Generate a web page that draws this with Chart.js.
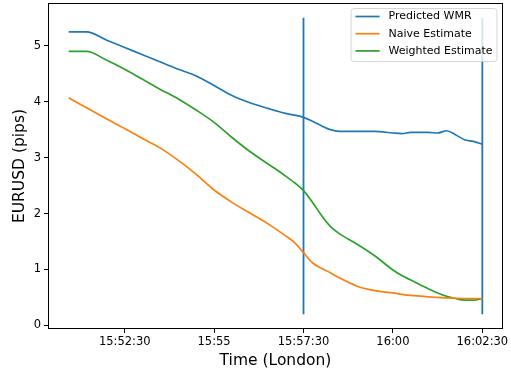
<!DOCTYPE html>
<html>
<head>
<meta charset="utf-8">
<script src="https://cdn.jsdelivr.net/npm/chart.js@4.4.1/dist/chart.umd.min.js"></script>
<style>
  html, body { margin: 0; padding: 0; background: #fff; }
  #wrap { width: 511px; height: 374px; position: relative; }
</style>
</head>
<body>
<div id="wrap"><canvas id="c" width="511" height="374"></canvas></div>
<script>
// seconds after 15:50:00 (London)
const times = [56, 86, 120, 150, 180, 210, 240, 270, 300, 330, 360, 390, 420, 435, 450, 465, 480, 495, 510, 540, 570, 600, 615, 630, 660, 675, 690, 705, 720, 735, 750];
const predictedWMR = [5.25, 5.25, 5.10, 4.97, 4.84, 4.71, 4.58, 4.46, 4.29, 4.11, 3.98, 3.88, 3.79, 3.76, 3.72, 3.65, 3.57, 3.50, 3.47, 3.47, 3.47, 3.44, 3.43, 3.45, 3.45, 3.44, 3.48, 3.41, 3.32, 3.29, 3.24];
const naiveEstimate = [4.07, 3.89, 3.69, 3.52, 3.34, 3.17, 2.95, 2.70, 2.42, 2.20, 2.01, 1.82, 1.60, 1.48, 1.30, 1.12, 1.02, 0.94, 0.85, 0.70, 0.62, 0.58, 0.555, 0.535, 0.51, 0.50, 0.49, 0.485, 0.48, 0.48, 0.48];
const weightedEstimate = [4.90, 4.90, 4.74, 4.58, 4.40, 4.22, 4.05, 3.85, 3.63, 3.36, 3.11, 2.89, 2.67, 2.55, 2.41, 2.20, 1.97, 1.77, 1.64, 1.45, 1.24, 0.99, 0.89, 0.81, 0.65, 0.58, 0.52, 0.48, 0.45, 0.45, 0.48];
const seriesLabels = ['Predicted WMR', 'Naive Estimate', 'Weighted Estimate'];
const vlineTimes = [450, 750];
const vlineRange = [0.2, 5.5];
const xTicks = [150, 300, 450, 600, 750];
const yTicks = [0, 1, 2, 3, 4, 5];

const colors = ['#1f77b4', '#ff7f0e', '#2ca02c'];
const FONT = "'DejaVu Sans', sans-serif";

function fmtTime(t) {
  const total = 15 * 3600 + 50 * 60 + t;
  const h = Math.floor(total / 3600);
  const m = Math.floor((total % 3600) / 60);
  const s = Math.round(total % 60);
  const p = n => String(n).padStart(2, '0');
  return s === 0 ? p(h) + ':' + p(m) : p(h) + ':' + p(m) + ':' + p(s);
}

const toPts = vals => times.map((t, i) => ({ x: t, y: vals[i] }));
const seriesVals = [predictedWMR, naiveEstimate, weightedEstimate];

const datasets = seriesVals.map((v, i) => ({
  label: seriesLabels[i],
  data: toPts(v),
  borderColor: colors[i],
  backgroundColor: colors[i],
  borderWidth: 1.7,
  pointRadius: 0,
  cubicInterpolationMode: 'monotone',
  fill: false
}));
vlineTimes.forEach(t => datasets.push({
  label: '_vline',
  data: [{ x: t, y: vlineRange[0] }, { x: t, y: vlineRange[1] }],
  borderColor: colors[0],
  backgroundColor: colors[0],
  borderWidth: 1.8,
  pointRadius: 0,
  fill: false
}));

const xMin = 56 - 0.05 * (750 - 56), xMax = 750 + 0.05 * (750 - 56);
const yMin = 0.2 - 0.05 * (5.5 - 0.2), yMax = 5.5 + 0.05 * (5.5 - 0.2);

const boxPlugin = {
  id: 'box',
  afterDraw(chart) {
    const { ctx, chartArea: a } = chart;
    ctx.save();
    ctx.strokeStyle = '#000';
    ctx.lineWidth = 1;
    ctx.strokeRect(Math.round(a.left) + 0.5, Math.round(a.top) + 0.5, Math.round(a.right - a.left) - 1, Math.round(a.bottom - a.top) - 1);
    // legend
    const fs = 11;
    ctx.font = fs + 'px ' + FONT;
    const labels = seriesLabels;
    const tw = Math.max(...labels.map(l => ctx.measureText(l).width));
    const pad = 0.4 * fs, handle = 2.2 * fs, gap = 0.8 * fs, rowH = 17.2;
    const w = pad + handle + gap + tw + pad;
    const h = 53;
    const right = a.right - 6, top = a.top + 5.5;
    const left = right - w;
    ctx.beginPath();
    const r = 3;
    ctx.moveTo(left + r, top);
    ctx.arcTo(right, top, right, top + h, r);
    ctx.arcTo(right, top + h, left, top + h, r);
    ctx.arcTo(left, top + h, left, top, r);
    ctx.arcTo(left, top, right, top, r);
    ctx.closePath();
    ctx.fillStyle = 'rgba(255,255,255,0.8)';
    ctx.fill();
    ctx.strokeStyle = 'rgba(204,204,204,0.8)';
    ctx.lineWidth = 1;
    ctx.stroke();
    labels.forEach((l, i) => {
      const cy = top + 8 + i * rowH;
      ctx.beginPath();
      ctx.strokeStyle = colors[i];
      ctx.lineWidth = 1.7;
      ctx.moveTo(left + pad, cy);
      ctx.lineTo(left + pad + handle, cy);
      ctx.stroke();
      ctx.fillStyle = '#000';
      ctx.textBaseline = 'middle';
      ctx.textAlign = 'left';
      ctx.fillText(l, left + pad + handle + gap, cy);
    });
    ctx.restore();
  }
};

new Chart(document.getElementById('c'), {
  type: 'line',
  data: { datasets },
  plugins: [boxPlugin],
  options: {
    responsive: false,
    animation: false,
    layout: { padding: { top: 3, right: 8, left: 0, bottom: 0 } },
    plugins: { legend: { display: false }, tooltip: { enabled: false } },
    scales: {
      x: {
        type: 'linear',
        min: xMin,
        max: xMax,
        afterFit(s) { s.height = 45; s.paddingLeft = 0; s.paddingRight = 0; },
        afterBuildTicks(s) { s.ticks = xTicks.map(v => ({ value: v })); },
        ticks: {
          callback: v => fmtTime(v),
          font: { family: FONT, size: 11.5 },
          color: '#000',
          padding: 2,
          maxRotation: 0,
          autoSkip: false
        },
        grid: { drawOnChartArea: false, drawTicks: true, tickLength: 4, color: '#000', tickWidth: 1 },
        border: { display: false },
        title: { display: true, text: 'Time (London)', font: { family: FONT, size: 15.5 }, color: '#000', padding: { top: 0, bottom: 4 } }
      },
      y: {
        type: 'linear',
        min: yMin,
        max: yMax,
        afterFit(s) { s.width = 48; s.paddingTop = 0; s.paddingBottom = 0; },
        afterBuildTicks(s) { s.ticks = yTicks.map(v => ({ value: v })); },
        ticks: {
          font: { family: FONT, size: 11.5 },
          color: '#000',
          padding: 3,
          autoSkip: false
        },
        grid: { drawOnChartArea: false, drawTicks: true, tickLength: 4, color: '#000', tickWidth: 1 },
        border: { display: false },
        title: { display: true, text: 'EURUSD (pips)', font: { family: FONT, size: 15.5 }, color: '#000', padding: { top: 11, bottom: 0 } }
      }
    }
  }
});
</script>
</body>
</html>
